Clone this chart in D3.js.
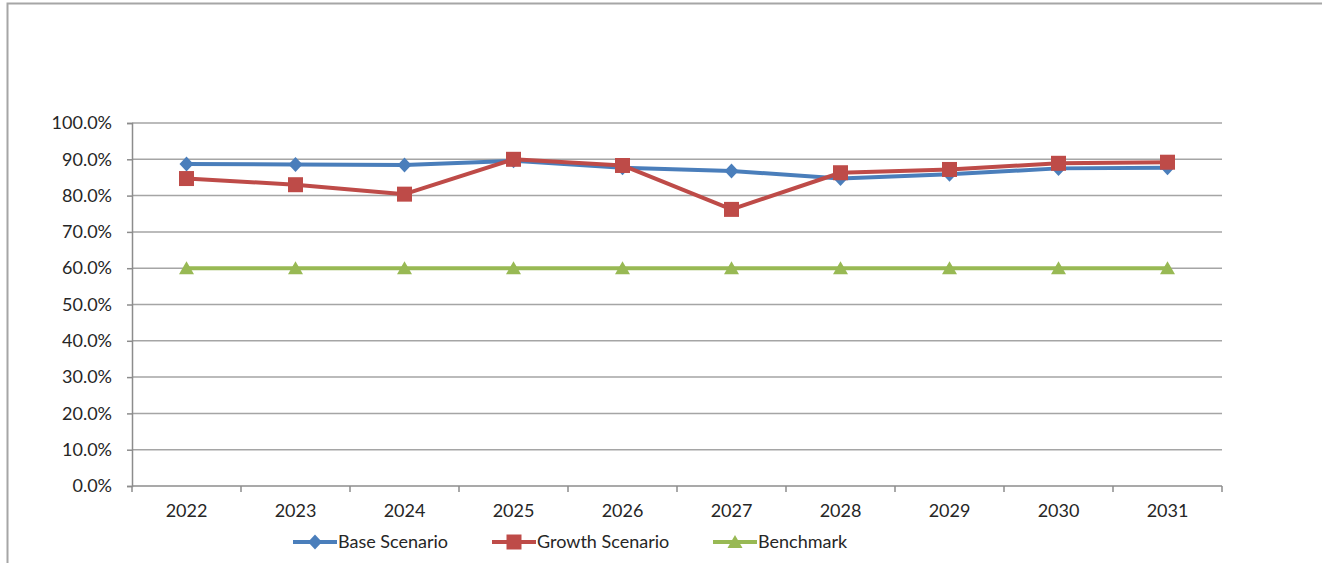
<!DOCTYPE html>
<html>
<head>
<meta charset="utf-8">
<script src="https://cdn.jsdelivr.net/npm/d3@7"></script>
<style>
  html, body { margin: 0; padding: 0; background: #fff; }
  svg { display: block; }
  text { font-family: Lato, "Open Sans", "Liberation Sans", sans-serif; fill: #262626; }
</style>
</head>
<body>
<svg id="chart" width="1322" height="563"></svg>
<script>
// Yearly ratios for each scenario, in percent
const years = ["2022", "2023", "2024", "2025", "2026", "2027", "2028", "2029", "2030", "2031"];
const baseScenario   = [88.7, 88.6, 88.4, 89.6, 87.7, 86.8, 84.7, 85.9, 87.5, 87.7];
const growthScenario = [84.7, 83.0, 80.4, 90.0, 88.3, 76.2, 86.3, 87.2, 88.9, 89.2];
const benchmark      = [60.0, 60.0, 60.0, 60.0, 60.0, 60.0, 60.0, 60.0, 60.0, 60.0];
const yTicks = [0, 10, 20, 30, 40, 50, 60, 70, 80, 90, 100];

const seriesNames = ["Base Scenario", "Growth Scenario", "Benchmark"];
const series = [
  { name: seriesNames[0], values: baseScenario,   color: "#4A7EBB", marker: "diamond" },
  { name: seriesNames[1], values: growthScenario, color: "#BE4B48", marker: "square" },
  { name: seriesNames[2], values: benchmark,      color: "#98B954", marker: "triangle" }
];

const svg = d3.select("#chart");
const W = 1322, H = 563;
const plot = { left: 132, right: 1222, top: 123, bottom: 486 };

// Outer frame (left and top edges)
svg.append("path")
  .attr("d", `M7.5,${H} V3.5 H${W}`)
  .attr("fill", "none").attr("stroke", "#a6a6a6").attr("stroke-width", 2);

const x = d3.scaleBand().domain(years).range([plot.left, plot.right]);
const y = d3.scaleLinear().domain([0, 100]).range([plot.bottom, plot.top]);

// Horizontal gridlines
svg.append("g").selectAll("line").data(yTicks.filter(t => t > 0)).join("line")
  .attr("x1", plot.left).attr("x2", plot.right)
  .attr("y1", d => y(d)).attr("y2", d => y(d))
  .attr("stroke", "#a5a5a5").attr("stroke-width", 1.5);

// Y axis
const yAxis = svg.append("g").attr("transform", `translate(${plot.left},0)`)
  .call(d3.axisLeft(y).tickValues(yTicks).tickSize(5).tickPadding(15)
    .tickFormat(d => d.toFixed(1) + "%"));
yAxis.select(".domain").attr("stroke", "#8c8c8c").attr("stroke-width", 1.5);
yAxis.selectAll(".tick line").attr("stroke", "#8c8c8c").attr("stroke-width", 1.5);
yAxis.selectAll(".tick text").style("font-size", "18px").attr("fill", "#262626");

// X axis with ticks at band boundaries
const xAxis = svg.append("g").attr("transform", `translate(0,${plot.bottom})`)
  .call(d3.axisBottom(x).tickSize(0).tickPadding(18));
xAxis.select(".domain").remove();
xAxis.append("line").attr("x1", plot.left).attr("x2", plot.right)
  .attr("stroke", "#8c8c8c").attr("stroke-width", 1.5);
const bounds = years.map(d => x(d)).concat([plot.right]);
xAxis.selectAll(".bound").data(bounds).join("line").attr("class", "bound")
  .attr("x1", d => d).attr("x2", d => d).attr("y1", 0).attr("y2", 6)
  .attr("stroke", "#8c8c8c").attr("stroke-width", 1.5);
xAxis.selectAll(".tick text").style("font-size", "18px").attr("fill", "#262626");

const cx = d => x(d) + x.bandwidth() / 2;

function markerPath(type) {
  if (type === "diamond") return "M0,-7.5 L7,0 L0,7.5 L-7,0 Z";
  if (type === "square") return "M-7.5,-7.5 H7.5 V7.5 H-7.5 Z";
  return "M0,-7 L7.5,6 L-7.5,6 Z";
}

const line = d3.line().x((d, i) => cx(years[i])).y(d => y(d));

// Draw benchmark first so the scenarios sit on top
const drawOrder = [series[2], series[0], series[1]];
drawOrder.forEach(s => {
  const g = svg.append("g");
  g.append("path").datum(s.values)
    .attr("d", line).attr("fill", "none")
    .attr("stroke", s.color).attr("stroke-width", 4).attr("stroke-linejoin", "round");
  g.selectAll("path.m").data(s.values).join("path").attr("class", "m")
    .attr("d", markerPath(s.marker))
    .attr("transform", (d, i) => `translate(${cx(years[i])},${y(d)})`)
    .attr("fill", s.color);
});

// Legend
const legendItems = [
  { s: series[0], x: 293 },
  { s: series[1], x: 492 },
  { s: series[2], x: 713 }
];
const ly = 542;
legendItems.forEach(({ s, x: lx }) => {
  const g = svg.append("g").attr("transform", `translate(${lx},${ly})`);
  g.append("line").attr("x1", 0).attr("x2", 44).attr("stroke", s.color).attr("stroke-width", 4);
  g.append("path").attr("d", markerPath(s.marker)).attr("transform", "translate(22,0)").attr("fill", s.color);
  g.append("text").attr("x", 45).attr("dy", "0.35em").style("font-size", "18px").text(s.name);
});
</script>
</body>
</html>
